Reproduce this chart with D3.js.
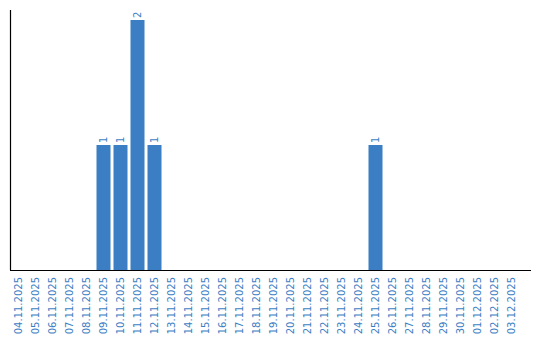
<!DOCTYPE html>
<html>
<head>
<meta charset="utf-8">
<script src="https://cdn.jsdelivr.net/npm/d3@7"></script>
<style>
  body { margin: 0; background: #fff; }
  text { font-family: "DejaVu Sans", sans-serif; }
</style>
</head>
<body>
<div id="chart"></div>
<script>
// dates shown on the x axis
const dates = ["04.11.2025", "05.11.2025", "06.11.2025", "07.11.2025", "08.11.2025",
  "09.11.2025", "10.11.2025", "11.11.2025", "12.11.2025", "13.11.2025",
  "14.11.2025", "15.11.2025", "16.11.2025", "17.11.2025", "18.11.2025",
  "19.11.2025", "20.11.2025", "21.11.2025", "22.11.2025", "23.11.2025",
  "24.11.2025", "25.11.2025", "26.11.2025", "27.11.2025", "28.11.2025",
  "29.11.2025", "30.11.2025", "01.12.2025", "02.12.2025", "03.12.2025"];
// count per day
const counts = [0, 0, 0, 0, 0, 1, 1, 2, 1, 0, 0, 0, 0, 0, 0,
  0, 0, 0, 0, 0, 0, 1, 0, 0, 0, 0, 0, 0, 0, 0];

const svgWidth = 540;
const svgHeight = 340;
const margin = { top: 10, right: 9, bottom: 70, left: 10 };
const height = svgHeight - margin.top - margin.bottom;
const blue = "#3b7ec4";

const svg = d3.select("#chart")
  .append("svg")
  .attr("width", svgWidth)
  .attr("height", svgHeight);

const chartGroup = svg.append("g")
  .attr("transform", `translate(${margin.left}, ${margin.top})`);

const x = d3.scaleBand()
  .domain(dates)
  .range([0, 510])
  .paddingInner(3 / 17)
  .paddingOuter(1.5 / 17);

const y = d3.scaleLinear()
  .domain([0, 2])
  .range([height, 10]);

const data = dates.map((d, i) => ({ date: d, value: counts[i] }));

// bars
chartGroup.selectAll("rect")
  .data(data.filter(d => d.value > 0))
  .enter()
  .append("rect")
  .attr("x", d => x(d.date))
  .attr("y", d => y(d.value))
  .attr("width", x.bandwidth())
  .attr("height", d => height - y(d.value))
  .attr("fill", blue);

// value labels above bars
chartGroup.selectAll(".val")
  .data(data.filter(d => d.value > 0))
  .enter()
  .append("text")
  .attr("class", "val")
  .attr("transform", d => `translate(${x(d.date) + x.bandwidth() / 2 + 3.5}, ${y(d.value) - 2}) rotate(-90)`)
  .style("font-size", "10px")
  .style("fill", blue)
  .text(d => d.value);

// x axis
const bottomAxis = d3.axisBottom(x).tickSize(0).tickPadding(0);
const xAxis = chartGroup.append("g")
  .attr("transform", `translate(0, ${height})`)
  .call(bottomAxis);
xAxis.select(".domain").remove();
xAxis.selectAll("text")
  .attr("transform", "rotate(-90)")
  .attr("x", -7)
  .attr("y", 0)
  .attr("dy", "0.35em")
  .style("text-anchor", "end")
  .style("font-size", "10px")
  .style("font-family", "DejaVu Sans, sans-serif")
  .style("fill", blue);

// axis lines
chartGroup.append("line")
  .attr("x1", 0).attr("x2", 521)
  .attr("y1", height + 0.5).attr("y2", height + 0.5)
  .attr("stroke", "#000").attr("stroke-width", 1.2);
chartGroup.append("line")
  .attr("x1", 0.5).attr("x2", 0.5)
  .attr("y1", 0).attr("y2", height)
  .attr("stroke", "#000").attr("stroke-width", 1.2);
</script>
</body>
</html>
